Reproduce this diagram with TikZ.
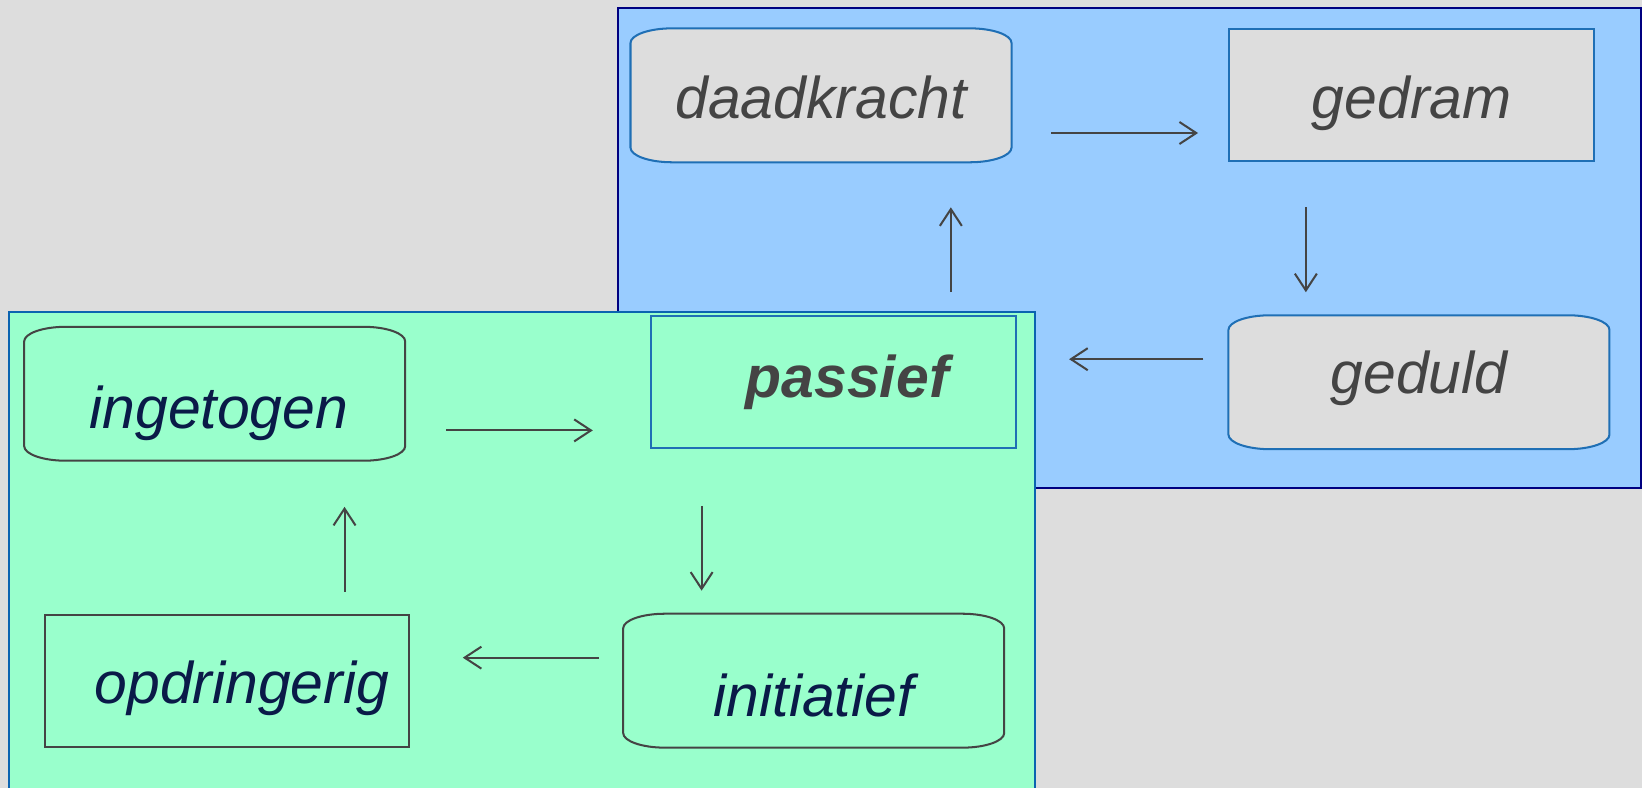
\documentclass[tikz,border=0pt]{standalone}
\usepackage{fontspec}
\setmainfont{Liberation Sans}
\usetikzlibrary{arrows.meta,calc}
\definecolor{achtergrond}{HTML}{DDDDDD}
\definecolor{lichtblauw}{HTML}{99CCFF}
\definecolor{lichtgroen}{HTML}{99FFCC}
\definecolor{randblauw}{HTML}{1F6FB5}
\definecolor{marine}{HTML}{000080}
\definecolor{groenrand}{HTML}{0B63B0}
\definecolor{tekstgrijs}{HTML}{444444}
\definecolor{tekstblauw}{HTML}{0A1A48}
\pgfdeclarelayer{achter}
\pgfsetlayers{achter,main}
\tikzset{
  vak/.style={inner sep=0pt, minimum width=6.96cm, minimum height=2.52cm, text height=1.4cm,
    font=\fontsize{32}{38}\selectfont\itshape, line width=1.1pt},
  zachtvak/.style={vak, minimum width=7.24cm},
  pijl/.style={->, >={Straight Barb[length=0.32cm,width=0.42cm]}, draw=tekstgrijs, line width=1.1pt}
}
% to draw the soft (rounded) outline behind a node
\newcommand\zachterand[2]{%
  \begin{pgfonlayer}{achter}
  \path[line width=1.1pt,#2] ([yshift=-0.28cm]#1.north west) arc[start angle=180,end angle=90,x radius=0.8cm,y radius=0.28cm]
    -- ([xshift=-0.8cm]#1.north east) arc[start angle=90,end angle=0,x radius=0.8cm,y radius=0.28cm]
    -- ([yshift=0.28cm]#1.south east) arc[start angle=0,end angle=-90,x radius=0.8cm,y radius=0.28cm]
    -- ([xshift=0.8cm]#1.south west) arc[start angle=270,end angle=180,x radius=0.8cm,y radius=0.28cm] -- cycle;
  \end{pgfonlayer}}
\begin{document}
\begin{tikzpicture}[x=0.02cm,y=-0.02cm]
\useasboundingbox (0,0) rectangle (1568,752);

% to draw the panels
\begin{pgfonlayer}{achter}
\fill[achtergrond] (0,0) rectangle (1568,752);
\draw[fill=lichtblauw, draw=marine, line width=1.1pt] (590,8) rectangle (1567,466);
\fill[lichtgroen] (9,298) rectangle (988,752);
\draw[groenrand, line width=1.1pt] (9,752) -- (9,298) -- (988,298) -- (988,752);
\end{pgfonlayer}

% upper cycle
\node[zachtvak, text=tekstgrijs, text depth=0.52cm] (daadkracht) at (784,91) {daadkracht};
\zachterand{daadkracht}{fill=achtergrond, draw=randblauw}
\node[vak, fill=achtergrond, draw=randblauw, text=tekstgrijs, text depth=0.52cm] (gedram) at (1348,91) {gedram};
\node[zachtvak, text=tekstgrijs, text depth=0.96cm] (geduld) at (1355,365) {geduld};
\zachterand{geduld}{fill=achtergrond, draw=randblauw}
\node[vak, draw=randblauw, text=tekstgrijs, text depth=0.8cm] (passief) at (796,365) {\hspace*{0.52cm}\bfseries passief};

% lower cycle
\node[zachtvak, text=tekstblauw, text depth=0.08cm] (ingetogen) at (205,376) {\hspace*{0.16cm}ingetogen};
\zachterand{ingetogen}{draw=tekstgrijs}
\node[zachtvak, text=tekstblauw, text depth=0.04cm] (initiatief) at (777,650) {initiatief};
\zachterand{initiatief}{draw=tekstgrijs}
\node[vak, draw=tekstgrijs, text=tekstblauw, text depth=0.52cm] (opdringerig) at (217,650) {\hspace*{0.56cm}opdringerig};

% to draw arrows
\draw[pijl] ($(daadkracht.east)+(38,36)$) -- ($(gedram.west)+(-29,36)$);
\draw[pijl] ($(gedram.south)+(-101,43)$) -- ($(geduld.north)+(-108,-22)$);
\draw[pijl] ($(geduld.west)+(-24,-22)$) -- ($(passief.east)+(50,-22)$);
\draw[pijl] ($(passief.north)+(112,-22)$) -- ($(daadkracht.south)+(124,43)$);
\draw[pijl] ($(ingetogen.east)+(39,35)$) -- ($(passief.west)+(-55,46)$);
\draw[pijl] ($(passief.south)+(-126,54)$) -- ($(initiatief.north)+(-107,-22)$);
\draw[pijl] ($(initiatief.west)+(-23,-22)$) -- ($(opdringerig.east)+(50,-22)$);
\draw[pijl] ($(opdringerig.north)+(112,-21)$) -- ($(ingetogen.south)+(124,44)$);
\end{tikzpicture}
\end{document}
